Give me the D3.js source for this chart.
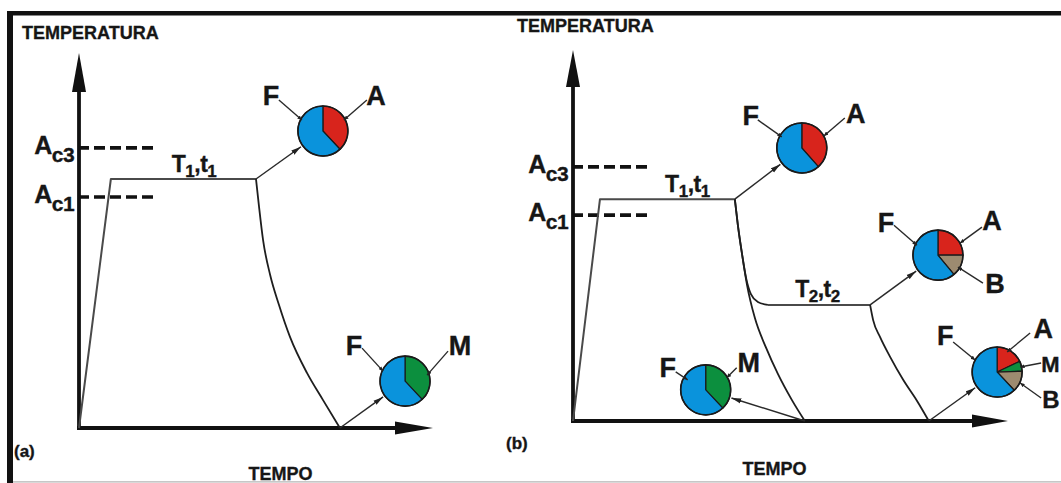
<!DOCTYPE html>
<html><head><meta charset="utf-8">
<script src="https://cdn.jsdelivr.net/npm/d3@7"></script>
<style>
html,body{margin:0;padding:0;background:#fff;}
svg{display:block;}
text{font-family:"Liberation Sans",Arial,Helvetica,sans-serif;font-weight:bold;fill:#161616;stroke:#161616;stroke-width:0.35px;}
</style>
</head><body>
<svg id="c" width="1061" height="483"></svg>
<script>
// ===== DATA (time and temperature in arbitrary units, 0–100 on each axis) =====
const phaseColor = { F: "#0a93dc", A: "#d8241c", M: "#0c8f3e", B: "#9d8b70" };
const criticalSubs = ["c3", "c1"];

// ---- Panel (a) ----
const aCriticalTemp = [74.7, 61.6];
const aDashEndTime = 22.3;
const aHeatHoldTime = [0, 9.0, 50.0];
const aHeatHoldTemp = [0, 66.4, 66.4];
const aCoolTime = [50.0, 50.8, 52.0, 54.0, 56.5, 59.6, 64.4, 68.9, 73.7];
const aCoolTemp = [66.4, 59.5, 50.1, 40.8, 32.8, 24.3, 14.7, 7.5, 0];
const aPieTime = [68.9, 92.1];
const aPieTemp = [79.2, 12.5];
const aPiePhases = [["A", "F"], ["M", "F"]];
const aPieShares = [[38, 62], [38, 62]];
const aArrowFromTime = [50.0, 73.7];
const aArrowFromTemp = [66.4, 0];

// ---- Panel (b) ----
const bCriticalTemp = [68.5, 55.5];
const bDashEndTime = 17.5;
const bHeatHoldTime = [0, 6.2, 37.2];
const bHeatHoldTemp = [0, 59.8, 59.8];
const bCool1Time = [37.2, 37.9, 38.9, 40.0, 41.8, 44.4, 47.1, 50.3, 53.3];
const bCool1Temp = [59.8, 52.8, 44.7, 36.7, 27.8, 19.7, 12.7, 5.7, 0];
const bCool2Time = [37.2, 37.9, 38.9, 39.8, 40.9, 42.5, 44.8];
const bCool2Temp = [59.8, 52.8, 44.7, 38.5, 34.2, 32.1, 31.3];
const bHold2Time = [44.8, 68.3];
const bHold2Temp = [31.3, 31.3];
const bCool3Time = [68.3, 69.0, 70.6, 72.9, 75.9, 79.1, 81.8];
const bCool3Temp = [31.3, 27.2, 22.6, 17.3, 11.1, 5.4, 0];
const bPieTime = [52.6, 83.9, 97.5, 30.5];
const bPieTemp = [73.6, 44.7, 13.2, 8.4];
const bPiePhases = [["A", "F"], ["A", "B", "F"], ["A", "M", "B", "F"], ["M", "F"]];
const bPieShares = [[38.5, 61.5], [25, 14, 61], [18, 6.5, 13.5, 62], [38, 62]];
const bArrowFromTime = [37.2, 68.3, 81.8, 53.3];
const bArrowFromTemp = [59.8, 31.3, 0, 0];

// ===== LAYOUT (pixels) =====
const svg = d3.select("#c");
const defs = svg.append("defs");
defs.append("marker").attr("id", "ah").attr("markerUnits", "userSpaceOnUse")
  .attr("markerWidth", 11).attr("markerHeight", 6).attr("refX", 10).attr("refY", 3).attr("orient", "auto")
  .append("path").attr("d", "M0,0.4L10,3L0,5.6Z").attr("fill", "#222");
defs.append("marker").attr("id", "ahs").attr("markerUnits", "userSpaceOnUse")
  .attr("markerWidth", 5).attr("markerHeight", 4).attr("refX", 4.5).attr("refY", 2).attr("orient", "auto")
  .append("path").attr("d", "M0,0L4.5,2L0,4Z").attr("fill", "#222");

function rich(g, x, y, parts, size, subSize, shift, anchor) {
  const t = g.append("text").attr("x", x).attr("y", y)
    .attr("text-anchor", anchor || "start").attr("font-size", size);
  let cur = 0;
  parts.forEach(([s, sub]) => {
    const target = sub ? shift : 0;
    t.append("tspan").attr("dy", target - cur).attr("font-size", sub ? subSize : size).text(s);
    cur = target;
  });
  return t;
}

const layoutA = {
  x0: 79, x1: 433, y0: 428, y1: 53, xBase: 395, yBase: 92, ahX: 6.5, ahY: 7,
  title: [22, 39], tempo: [280.5, 480], tag: ["(a)", 14, 457],
  holdLabels: [{ parts: [["T",0],["1",1],[",",0],["t",0],["1",1]], time: 32.5, temp: 66.4, dy: -7 }],
  pieLabels: [
    { F: [-52, -26, "middle", -44, -31, -21, -11, 27], A: [53, -26, "middle", 44, -31, 21, -11, 27] },
    { F: [-51, -26, "middle", -43, -33, -22, -10, 27], M: [55, -26, "middle", 43, -30, 22, -6, 27] }
  ]
};
const layoutB = {
  x0: 573, x1: 1008, y0: 421, y1: 50, xBase: 972, yBase: 87, ahX: 6.5, ahY: 7,
  title: [517, 32], tempo: [774.5, 475], tag: ["(b)", 506, 449],
  holdLabels: [
    { parts: [["T",0],["1",1],[",",0],["t",0],["1",1]], time: 26.3, temp: 59.8, dy: -7 },
    { parts: [["T",0],["2",1],[",",0],["t",0],["2",1]], time: 56.2, temp: 31.3, dy: -8 }
  ],
  pieLabels: [
    { F: [-51, -23, "middle", -44, -28, -20, -11, 27], A: [54, -25, "middle", 43, -30, 22, -12, 27] },
    { F: [-52, -23, "middle", -44, -30, -21, -10, 27], A: [54, -25, "middle", 44, -28, 22, -12, 27], B: [57, 38, "middle", 45, 28, 20, 12, 27] },
    { F: [-52, -27, "middle", -44, -30, -22, -12, 27], A: [46, -34, "middle", 33, -39, 10, -20, 27], M: [44, 0, "start", 44, -9, 23, -5, 22], B: [45, 36, "start", 44, 26, 23, 11, 24] },
    { F: [-38, -13, "middle", -30, -18, -18, -10, 27], M: [43, -18, "middle", 31, -22, 21, -12, 27] }
  ]
};

function drawPanel(L, D) {
  const g = svg.append("g");
  const x = d3.scaleLinear().domain([0, 100]).range([L.x0, L.x1]);
  const y = d3.scaleLinear().domain([0, 100]).range([L.y0, L.y1]);
  const pieR = 25;

  // titles
  g.append("text").attr("x", L.title[0]).attr("y", L.title[1]).attr("font-size", 18).text("TEMPERATURA");
  g.append("text").attr("x", L.tempo[0]).attr("y", L.tempo[1]).attr("font-size", 18).attr("text-anchor", "middle").text("TEMPO");
  g.append("text").attr("x", L.tag[1]).attr("y", L.tag[2]).attr("font-size", 17).text(L.tag[0]);

  // critical temperature dashed lines
  D.crit.forEach((T, i) => {
    g.append("line").attr("x1", x(0) - 1).attr("x2", x(D.dashEnd)).attr("y1", y(T)).attr("y2", y(T))
      .attr("stroke", "#111").attr("stroke-width", 3.6).attr("stroke-dasharray", "11,5");
    rich(g, x(0) - 5, y(T) + 6, [["A", 0], [criticalSubs[i], 1]], 25, 21, 8, "end")
      .attr("letter-spacing", -0.6);
  });

  // axes
  g.append("line").attr("x1", x(0)).attr("x2", x(0)).attr("y1", y(0) + 2).attr("y2", L.yBase)
    .attr("stroke", "#111").attr("stroke-width", 3.8);
  g.append("line").attr("x1", x(0) - 2).attr("x2", L.xBase).attr("y1", y(0)).attr("y2", y(0))
    .attr("stroke", "#111").attr("stroke-width", 3.8);
  g.append("path").attr("d", `M${x(0)},${y(100)}L${x(0) + L.ahY},${L.yBase}L${x(0) - L.ahY},${L.yBase}Z`).attr("fill", "#111");
  g.append("path").attr("d", `M${x(100)},${y(0)}L${L.xBase},${y(0) - L.ahX}L${L.xBase},${y(0) + L.ahX}Z`).attr("fill", "#111");

  const lin = d3.line().x(d => x(d[0])).y(d => y(d[1]));
  const smooth = d3.line().x(d => x(d[0])).y(d => y(d[1])).curve(d3.curveMonotoneX);

  D.holds.forEach(h => {
    g.append("path").attr("d", lin(d3.zip(h[0], h[1]))).attr("fill", "none")
      .attr("stroke", "#4a4a4a").attr("stroke-width", 2).attr("stroke-linejoin", "round");
  });
  D.cools.forEach(c => {
    g.append("path").attr("d", smooth(d3.zip(c[0], c[1]))).attr("fill", "none")
      .attr("stroke", "#1e1e1e").attr("stroke-width", 1.8);
  });

  // hold labels
  L.holdLabels.forEach(h => {
    rich(g, x(h.time), y(h.temp) + h.dy, h.parts, 23, 17, 5, "middle").attr("letter-spacing", -0.5);
  });

  // pies
  const pie = d3.pie().sort(null).value(d => d.v);
  const arc = d3.arc().innerRadius(0).outerRadius(pieR);
  D.pieTime.forEach((t, i) => {
    const cx = x(t), cy = y(D.pieTemp[i]);
    const sx = x(D.fromTime[i]), sy = y(D.fromTemp[i]);
    const dx = cx - sx, dy = cy - sy, len = Math.hypot(dx, dy);
    const k = (len - pieR - 2) / len;
    g.append("line").attr("x1", sx).attr("y1", sy).attr("x2", sx + dx * k).attr("y2", sy + dy * k)
      .attr("stroke", "#2a2a2a").attr("stroke-width", 1.5).attr("marker-end", "url(#ah)");

    const pg = g.append("g").attr("transform", `translate(${cx},${cy})`);
    const items = D.phases[i].map((p, j) => ({ p, v: D.shares[i][j] }));
    pg.selectAll("path").data(pie(items)).join("path").attr("d", arc)
      .attr("fill", d => phaseColor[d.data.p]).attr("stroke", "#1a1a1a").attr("stroke-width", 1.2);
    pg.append("circle").attr("r", pieR).attr("fill", "none").attr("stroke", "#1a1a1a").attr("stroke-width", 1.6);

    const labs = L.pieLabels[i];
    D.phases[i].forEach(p => {
      const o = labs[p];
      pg.append("line").attr("x1", o[3]).attr("y1", o[4]).attr("x2", o[5]).attr("y2", o[6])
        .attr("stroke", "#2a2a2a").attr("stroke-width", 1.4).attr("marker-end", "url(#ahs)");
      pg.append("text").attr("x", o[0]).attr("y", o[1]).attr("text-anchor", o[2])
        .attr("font-size", o[7]).text(p);
    });
  });
}

// frame
svg.append("rect").attr("x", 7).attr("y", 11).attr("width", 1054).attr("height", 4.5).attr("fill", "#111");
svg.append("rect").attr("x", 7).attr("y", 11).attr("width", 6).attr("height", 472).attr("fill", "#111");

drawPanel(layoutA, {
  crit: aCriticalTemp, dashEnd: aDashEndTime,
  holds: [[aHeatHoldTime, aHeatHoldTemp]],
  cools: [[aCoolTime, aCoolTemp]],
  pieTime: aPieTime, pieTemp: aPieTemp, phases: aPiePhases, shares: aPieShares,
  fromTime: aArrowFromTime, fromTemp: aArrowFromTemp
});
drawPanel(layoutB, {
  crit: bCriticalTemp, dashEnd: bDashEndTime,
  holds: [[bHeatHoldTime, bHeatHoldTemp], [bHold2Time, bHold2Temp]],
  cools: [[bCool1Time, bCool1Temp], [bCool2Time, bCool2Temp], [bCool3Time, bCool3Temp]],
  pieTime: bPieTime, pieTemp: bPieTemp, phases: bPiePhases, shares: bPieShares,
  fromTime: bArrowFromTime, fromTemp: bArrowFromTemp
});

// bottom edge line
svg.append("line").attr("x1", 13).attr("x2", 1061).attr("y1", 481.8).attr("y2", 481.8)
  .attr("stroke", "#b4b4b4").attr("stroke-width", 1.2);
</script>
</body></html>
